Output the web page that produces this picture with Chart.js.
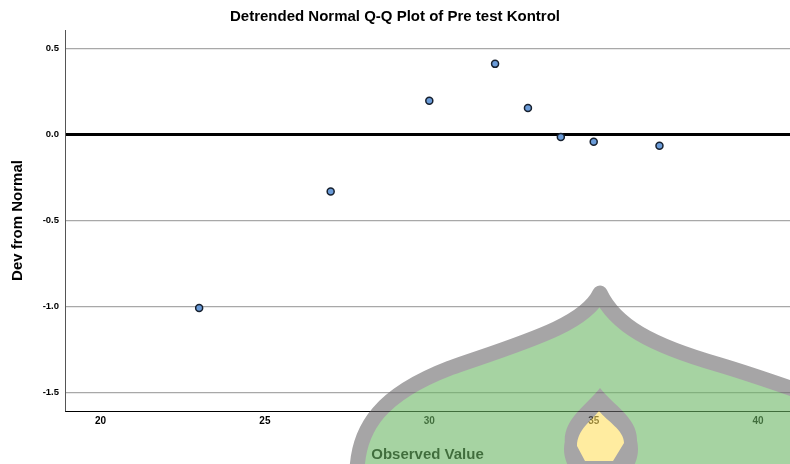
<!DOCTYPE html>
<html>
<head>
<meta charset="utf-8">
<script src="https://cdn.jsdelivr.net/npm/chart.js@4.4.0/dist/chart.umd.min.js"></script>
<style>
    body { margin: 0; background: #fff; }
    #wrap { width: 790px; height: 464px; }
</style>
</head>
<body>
<div id="wrap"><canvas id="qqChart"></canvas></div>
<script>
const observed = [23, 27, 30, 32, 33, 34, 35, 37];
const devFromNormal = [-1.01, -0.333, 0.195, 0.41, 0.153, -0.015, -0.043, -0.066];
const xTicks = [20, 25, 30, 35, 40];
const yTicks = [-1.5, -1.0, -0.5, 0.0, 0.5];

const font = "'Liberation Sans', Arial, sans-serif";

// the green dome / flame drawn over the chart
const overlayPlugin = {
    id: 'overlay',
    afterDraw(chart) {
        const off = document.createElement('canvas');
        off.width = chart.width;
        off.height = chart.height;
        const o = off.getContext('2d');

        o.beginPath();
        o.moveTo(357, 480);
        o.bezierCurveTo(355, 425, 385, 393, 450, 368);
        o.bezierCurveTo(525, 342, 585, 325, 600, 293);
        o.bezierCurveTo(615, 325, 650, 345, 720, 365);
        o.bezierCurveTo(760, 377, 790, 388, 830, 402);
        o.lineTo(830, 490);
        o.lineTo(357, 490);
        o.closePath();
        o.fillStyle = 'rgb(107,182,100)';
        o.fill();

        o.beginPath();
        o.moveTo(357, 480);
        o.bezierCurveTo(355, 425, 385, 393, 450, 368);
        o.bezierCurveTo(525, 342, 585, 325, 600, 293);
        o.bezierCurveTo(615, 325, 650, 345, 720, 365);
        o.bezierCurveTo(760, 377, 790, 388, 830, 402);
        o.lineWidth = 15;
        o.lineJoin = 'round';
        o.lineCap = 'round';
        o.strokeStyle = 'rgb(108,105,108)';
        o.stroke();

        o.beginPath();
        o.moveTo(600, 388);
        o.bezierCurveTo(613, 405, 638, 418, 637, 441);
        o.arc(601, 449, 37, -0.2, Math.PI + 0.2);
        o.bezierCurveTo(564, 418, 587, 405, 600, 388);
        o.closePath();
        o.fillStyle = 'rgb(108,105,108)';
        o.fill();

        o.beginPath();
        o.moveTo(599, 411);
        o.bezierCurveTo(607, 421, 624, 430, 624, 443);
        o.lineTo(613, 461);
        o.lineTo(585, 461);
        o.lineTo(577, 446);
        o.bezierCurveTo(577, 430, 591, 421, 599, 411);
        o.closePath();
        o.fillStyle = 'rgb(255,223,97)';
        o.fill();

        const ctx = chart.ctx;
        ctx.save();
        ctx.globalAlpha = 0.6;
        ctx.drawImage(off, 0, 0);
        ctx.restore();
    }
};

const ctx = document.getElementById('qqChart');
new Chart(ctx, {
    type: 'scatter',
    data: {
        datasets: [
            {
                data: observed.map((x, i) => ({ x: x, y: devFromNormal[i] })),
                backgroundColor: '#6a9bd8',
                borderColor: '#17202e',
                borderWidth: 1.5,
                pointRadius: 3.5,
            },
        ],
    },
    options: {
        responsive: true,
        maintainAspectRatio: false,
        animation: false,
        layout: { padding: 0, autoPadding: false },
        plugins: {
            legend: { display: false },
            tooltip: { enabled: false },
            title: {
                display: true,
                text: 'Detrended Normal Q-Q Plot of Pre test Kontrol',
                color: '#000',
                font: { family: font, size: 15, weight: 'bold' },
                padding: { top: 8, bottom: 4 },
            },
        },
        scales: {
            x: {
                type: 'linear',
                min: 18.92,
                max: 40.97,
                afterBuildTicks: (scale) => {
                    scale.ticks = xTicks.map((v) => ({ value: v }));
                },
                afterFit: (scale) => {
                    scale.height = 53;
                },
                grid: { display: false, drawTicks: false },
                border: { display: true, color: '#000', width: 1 },
                ticks: {
                    color: '#000',
                    padding: 4,
                    font: { family: font, size: 10, weight: 'bold' },
                },
                title: {
                    display: true,
                    text: 'Observed Value',
                    color: '#000',
                    font: { family: font, size: 15, weight: 'bold' },
                    padding: { top: 7, bottom: 0 },
                },
            },
            y: {
                min: -1.609,
                max: 0.607,
                afterBuildTicks: (scale) => {
                    scale.ticks = yTicks.map((v) => ({ value: v }));
                },
                afterFit: (scale) => {
                    scale.width = 65;
                },
                grid: {
                    drawTicks: false,
                    color: (c) => (c.tick && c.tick.value === 0 ? '#000' : '#a8a8a8'),
                    lineWidth: (c) => (c.tick && c.tick.value === 0 ? 3 : 1.3),
                },
                border: { display: true, color: '#555', width: 1 },
                ticks: {
                    color: '#000',
                    padding: 6,
                    font: { family: font, size: 9.5, weight: 'bold' },
                    callback: (v) => v.toFixed(1),
                },
                title: {
                    display: true,
                    text: 'Dev from Normal',
                    color: '#000',
                    font: { family: font, size: 15, weight: 'bold' },
                    padding: { top: 9, bottom: 0 },
                },
            },
        },
    },
    plugins: [overlayPlugin],
});
</script>
</body>
</html>
